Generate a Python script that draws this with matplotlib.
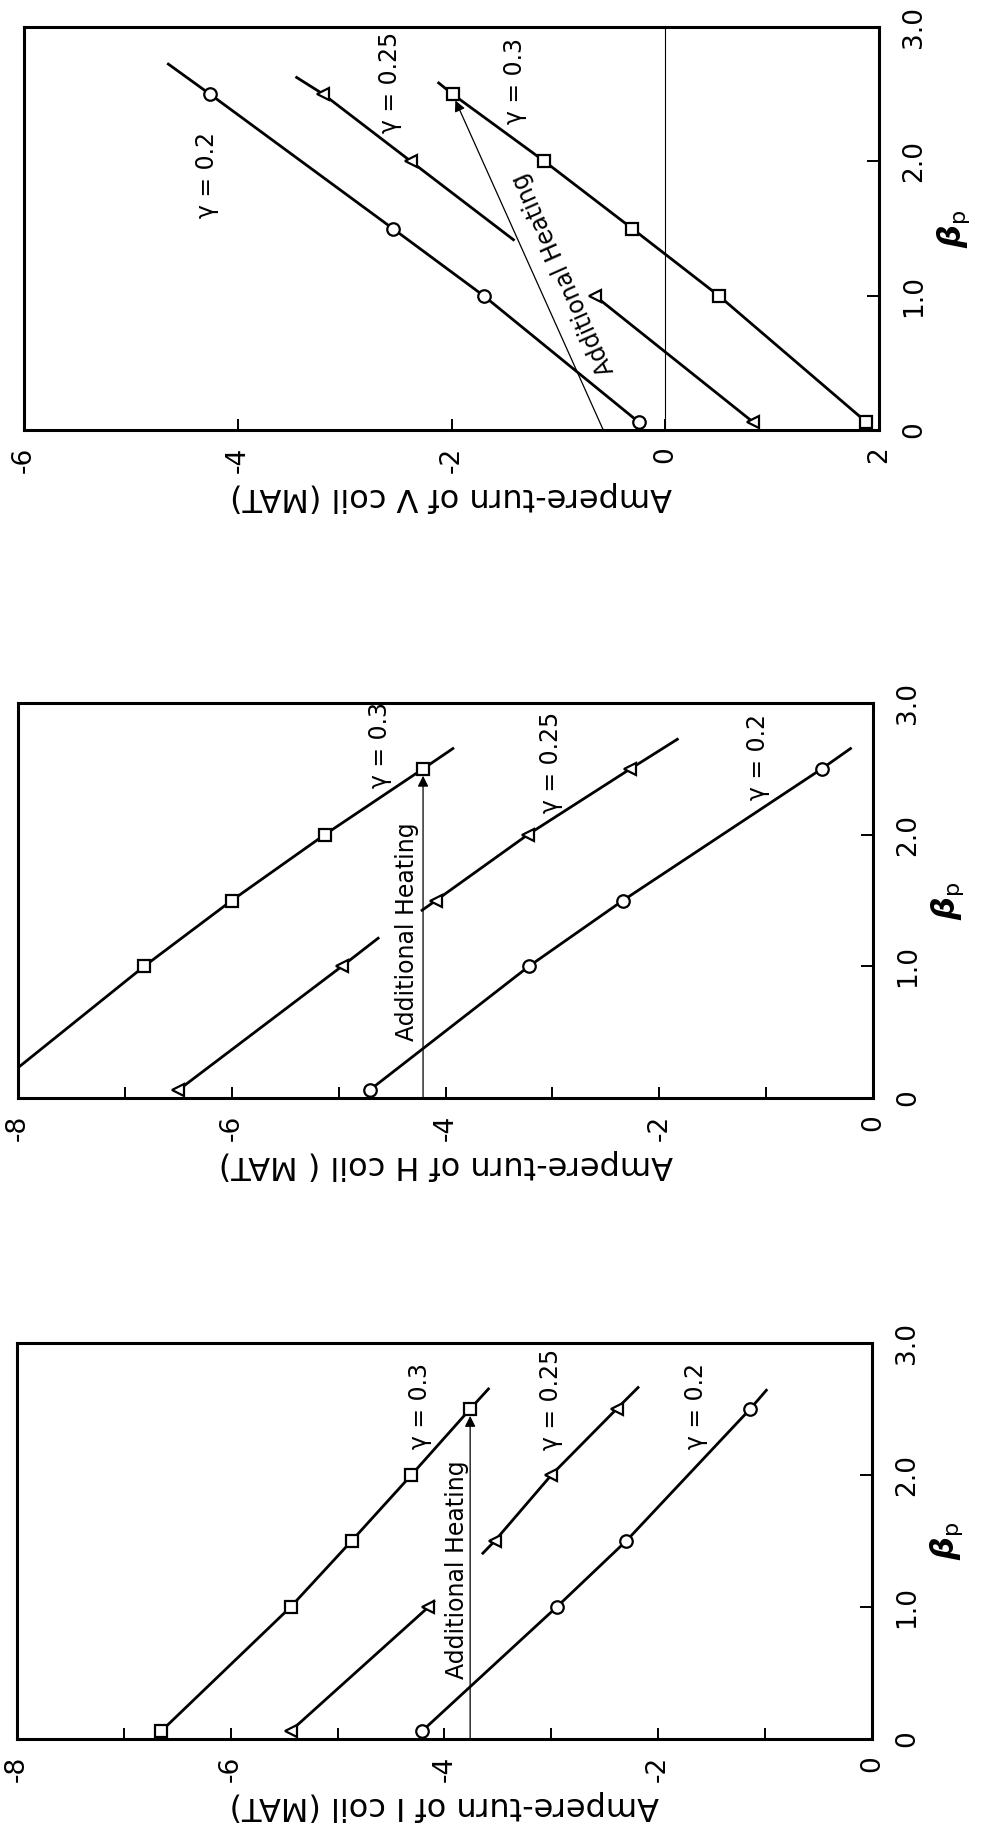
import matplotlib
matplotlib.use("Agg")
import matplotlib.pyplot as plt
from matplotlib.ticker import FixedLocator

plt.rcParams['font.family'] = ['DejaVu Sans']
plt.rcParams['mathtext.fontset'] = 'dejavusans'

# ---------------- data ----------------
beta_ticks = [0.0, 1.0, 2.0, 3.0]
beta_ticklabels = ['0', '1.0', '2.0', '3.0']

# V coil
v_xticks = [-6, -4, -2, 0, 2]
v_xticklabels = ['-6', '-4', '-2', '0', '2']
v_g20_beta = [0.06, 1.0, 1.5, 2.5]
v_g20_at = [-0.25, -1.70, -2.55, -4.26]
v_g20_curve_beta = [0.06, 1.0, 1.5, 2.5, 2.73]
v_g20_curve_at = [-0.25, -1.70, -2.55, -4.26, -4.66]
v_g25_beta = [0.06, 1.0, 2.0, 2.5]
v_g25_at = [0.82, -0.66, -2.38, -3.20]
v_g25_low_beta = [0.06, 1.0]
v_g25_low_at = [0.82, -0.66]
v_g25_up_beta = [1.41, 2.0, 2.5, 2.63]
v_g25_up_at = [-1.41, -2.38, -3.20, -3.46]
v_g30_beta = [0.06, 1.0, 1.5, 2.0, 2.5]
v_g30_at = [1.88, 0.50, -0.31, -1.13, -1.99]
v_g30_curve_beta = [0.06, 1.0, 1.5, 2.0, 2.5, 2.59]
v_g30_curve_at = [1.88, 0.50, -0.31, -1.13, -1.99, -2.13]
v_heat_beta = [0.0, 2.5]
v_heat_at = [-0.58, -1.99]

# H coil
h_xticks = [-8, -6, -4, -2, 0]
h_xticklabels = ['-8', '-6', '-4', '-2', '0']
h_g30_beta = [1.0, 1.5, 2.0, 2.5]
h_g30_at = [-6.82, -6.00, -5.13, -4.21]
h_g30_curve_beta = [0.23, 1.0, 1.5, 2.0, 2.5, 2.66]
h_g30_curve_at = [-8.00, -6.82, -6.00, -5.13, -4.21, -3.92]
h_g25_beta = [0.06, 1.0, 1.5, 2.0, 2.5]
h_g25_at = [-6.50, -4.97, -4.09, -3.23, -2.27]
h_g25_low_beta = [0.06, 1.0, 1.22]
h_g25_low_at = [-6.50, -4.97, -4.62]
h_g25_up_beta = [1.42, 1.5, 2.0, 2.5, 2.73]
h_g25_up_at = [-4.23, -4.09, -3.23, -2.27, -1.82]
h_g20_beta = [0.06, 1.0, 1.5, 2.5]
h_g20_at = [-4.71, -3.22, -2.34, -0.48]
h_g20_curve_beta = [0.06, 1.0, 1.5, 2.5, 2.66]
h_g20_curve_at = [-4.71, -3.22, -2.34, -0.48, -0.20]
h_heat_beta = [0.0, 2.5]
h_heat_at = [-4.21, -4.21]

# I coil
i_xticks = [-8, -6, -4, -2, 0]
i_xticklabels = ['-8', '-6', '-4', '-2', '0']
i_g30_beta = [0.06, 1.0, 1.5, 2.0, 2.5]
i_g30_at = [-6.65, -5.44, -4.87, -4.31, -3.76]
i_g30_curve_beta = [0.06, 1.0, 1.5, 2.0, 2.5, 2.66]
i_g30_curve_at = [-6.65, -5.44, -4.87, -4.31, -3.76, -3.58]
i_g25_beta = [0.06, 1.0, 1.5, 2.0, 2.5]
i_g25_at = [-5.44, -4.15, -3.53, -3.00, -2.39]
i_g25_low_beta = [0.06, 1.0, 1.05]
i_g25_low_at = [-5.44, -4.15, -4.09]
i_g25_up_beta = [1.40, 1.5, 2.0, 2.5, 2.67]
i_g25_up_at = [-3.65, -3.53, -3.00, -2.39, -2.18]
i_g20_beta = [0.06, 1.0, 1.5, 2.5]
i_g20_at = [-4.21, -2.95, -2.30, -1.14]
i_g20_curve_beta = [0.06, 1.0, 1.5, 2.5, 2.65]
i_g20_curve_at = [-4.21, -2.95, -2.30, -1.14, -0.98]
i_heat_beta = [0.0, 2.5]
i_heat_at = [-3.76, -3.76]

# ---------------- figure ----------------
W, H = 983, 1837
fig = plt.figure(figsize=(W / 100, H / 100), dpi=100)
fig.patch.set_facecolor('white')


def frame(l, t, r, b):
    return [l / W, 1 - b / H, (r - l) / W, (b - t) / H]


LINE = dict(color='black', lw=2.0, solid_capstyle='butt')
MK = dict(ls='none', color='black', mfc='white', mec='black', mew=1.6, ms=9, zorder=5)
TICK_FS = 19
ANNOT_FS = 17


def setup(ax, xlim, xticks, xticklabels, xlabel, minor):
    ax.set_xlim(*xlim)
    ax.set_ylim(0, 3)
    for sp in ax.spines.values():
        sp.set_linewidth(2.2)
    ax.xaxis.set_major_locator(FixedLocator(xticks))
    ax.set_xticklabels(xticklabels)
    if minor:
        ax.xaxis.set_minor_locator(FixedLocator(list(range(int(xlim[0]), int(xlim[1]) + 1))))
    ax.yaxis.set_major_locator(FixedLocator(beta_ticks))
    ax.set_yticklabels(beta_ticklabels)
    ax.tick_params(axis='x', which='both', direction='in', length=8, width=1.4,
                   bottom=True, top=False, labelsize=TICK_FS, labelrotation=90, pad=12)
    ax.tick_params(axis='y', which='both', direction='in', length=9, width=1.4,
                   left=False, right=True, labelleft=False, labelright=True,
                   labelsize=TICK_FS, labelrotation=90, pad=16)
    for lab in ax.get_yticklabels():
        lab.set_verticalalignment('center')
    ax.set_xlabel(xlabel, rotation=180, fontsize=23, labelpad=6)
    ax.yaxis.set_label_position('right')
    ax.set_ylabel(r'$\boldsymbol{\beta}_{\rm p}$', rotation=90, fontsize=23, labelpad=6)


def heating(ax, at, beta, tx, ty, rot):
    ax.annotate('', xy=(at[1], beta[1]), xytext=(at[0], beta[0]),
                arrowprops=dict(arrowstyle='-|>', lw=0.9, color='black',
                                mutation_scale=16, shrinkA=0, shrinkB=5))
    ax.text(tx, ty, 'Additional Heating', rotation=rot, fontsize=ANNOT_FS,
            ha='center', va='center', rotation_mode='anchor')


# ---- V coil ----
ax = fig.add_axes(frame(24, 27, 879, 430))
setup(ax, (-6, 2), v_xticks, v_xticklabels, 'Ampere-turn of V coil (MAT)', minor=False)
ax.axvline(0, color='black', lw=0.8)
ax.plot(v_g20_curve_at, v_g20_curve_beta, **LINE)
ax.plot(v_g20_at, v_g20_beta, marker='o', **MK)
ax.plot(v_g25_low_at, v_g25_low_beta, **LINE)
ax.plot(v_g25_up_at, v_g25_up_beta, **LINE)
ax.plot(v_g25_at, v_g25_beta, marker='<', **MK)
ax.plot(v_g30_curve_at, v_g30_curve_beta, **LINE)
ax.plot(v_g30_at, v_g30_beta, marker='s', **MK)
heating(ax, v_heat_at, v_heat_beta, -0.95, 1.16, 114)
ax.text(-4.29, 1.90, 'γ = 0.2', rotation=90, fontsize=ANNOT_FS, ha='center', va='center')
ax.text(-2.58, 2.585, 'γ = 0.25', rotation=90, fontsize=ANNOT_FS, ha='center', va='center')
ax.text(-1.41, 2.60, 'γ = 0.3', rotation=90, fontsize=ANNOT_FS, ha='center', va='center')

# ---- H coil ----
ax = fig.add_axes(frame(18, 703, 873, 1098))
setup(ax, (-8, 0), h_xticks, h_xticklabels, 'Ampere-turn of H coil ( MAT)', minor=True)
ax.plot(h_g30_curve_at, h_g30_curve_beta, **LINE)
ax.plot(h_g30_at, h_g30_beta, marker='s', **MK)
ax.plot(h_g25_low_at, h_g25_low_beta, **LINE)
ax.plot(h_g25_up_at, h_g25_up_beta, **LINE)
ax.plot(h_g25_at, h_g25_beta, marker='<', **MK)
ax.plot(h_g20_curve_at, h_g20_curve_beta, **LINE)
ax.plot(h_g20_at, h_g20_beta, marker='o', **MK)
heating(ax, h_heat_at, h_heat_beta, -4.36, 1.26, 90)
ax.text(-4.61, 2.68, 'γ = 0.3', rotation=90, fontsize=ANNOT_FS, ha='center', va='center')
ax.text(-3.01, 2.55, 'γ = 0.25', rotation=90, fontsize=ANNOT_FS, ha='center', va='center')
ax.text(-1.08, 2.59, 'γ = 0.2', rotation=90, fontsize=ANNOT_FS, ha='center', va='center')

# ---- I coil ----
ax = fig.add_axes(frame(17, 1343, 872, 1739))
setup(ax, (-8, 0), i_xticks, i_xticklabels, 'Ampere-turn of I coil (MAT)', minor=True)
ax.plot(i_g30_curve_at, i_g30_curve_beta, **LINE)
ax.plot(i_g30_at, i_g30_beta, marker='s', **MK)
ax.plot(i_g25_low_at, i_g25_low_beta, **LINE)
ax.plot(i_g25_up_at, i_g25_up_beta, **LINE)
ax.plot(i_g25_at, i_g25_beta, marker='<', **MK)
ax.plot(i_g20_curve_at, i_g20_curve_beta, **LINE)
ax.plot(i_g20_at, i_g20_beta, marker='o', **MK)
heating(ax, i_heat_at, i_heat_beta, -3.885, 1.28, 90)
ax.text(-4.225, 2.52, 'γ = 0.3', rotation=90, fontsize=ANNOT_FS, ha='center', va='center')
ax.text(-3.0, 2.57, 'γ = 0.25', rotation=90, fontsize=ANNOT_FS, ha='center', va='center')
ax.text(-1.65, 2.52, 'γ = 0.2', rotation=90, fontsize=ANNOT_FS, ha='center', va='center')

fig.savefig('out.png', dpi=100, facecolor='white')
